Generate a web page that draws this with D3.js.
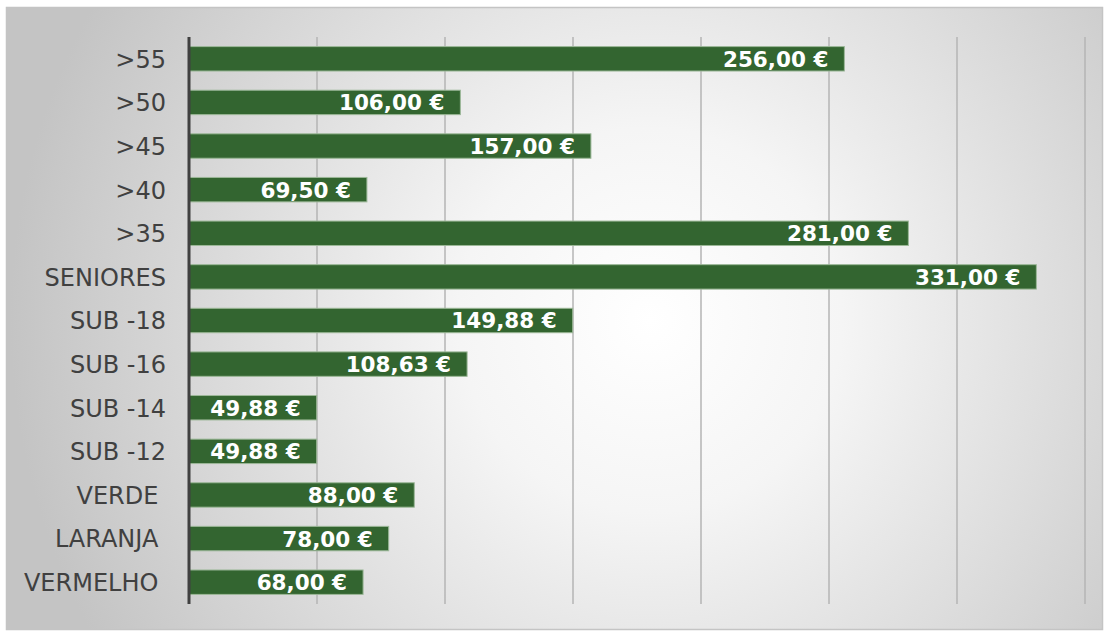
<!DOCTYPE html>
<html><head><meta charset="utf-8">
<script src="https://cdn.jsdelivr.net/npm/d3@7"></script>
<style>html,body{margin:0;padding:0;background:#fff;}svg{display:block;}</style>
</head><body>
<svg id="c" width="1105" height="631"></svg>
<script>
const categories = [">55", ">50", ">45", ">40", ">35", "SENIORES", "SUB -18", "SUB -16", "SUB -14", "SUB -12", "VERDE ", "LARANJA ", "VERMELHO "];
const values = [256.00, 106.00, 157.00, 69.50, 281.00, 331.00, 149.88, 108.63, 49.88, 49.88, 88.00, 78.00, 68.00];
const xTicks = [0, 50, 100, 150, 200, 250, 300, 350];

const svg = d3.select("#c");
const defs = svg.append("defs");
const rg = defs.append("radialGradient").attr("id", "bg")
  .attr("gradientUnits", "userSpaceOnUse")
  .attr("cx", 650).attr("cy", 320).attr("r", 640);
rg.append("stop").attr("offset", "0").attr("stop-color", "#ffffff");
rg.append("stop").attr("offset", "0.3").attr("stop-color", "#f5f5f5");
rg.append("stop").attr("offset", "1").attr("stop-color", "#c4c4c4");

svg.append("rect").attr("x", 6.5).attr("y", 7.5).attr("width", 1096).attr("height", 622)
  .attr("fill", "url(#bg)").attr("stroke", "#c4c4c4").attr("stroke-width", 1.5);

const x = d3.scaleLinear().domain([0, 350]).range([189, 1085]);
const y = d3.scaleBand().domain(categories).range([37, 604]).paddingInner(0.44).paddingOuter(0.22);

// gridlines
svg.append("g").selectAll("line").data(xTicks.slice(1)).join("line")
  .attr("x1", d => x(d)).attr("x2", d => x(d))
  .attr("y1", 37).attr("y2", 604)
  .attr("stroke", "#b4b4b4").attr("stroke-width", 1.5);

// bars
svg.append("g").selectAll("rect").data(values).join("rect")
  .attr("x", x(0)).attr("y", (d, i) => y(categories[i]))
  .attr("width", d => x(d) - x(0)).attr("height", y.bandwidth())
  .attr("fill", "#336530").attr("stroke", "#9cb898").attr("stroke-width", 1);

// value labels
const fmt = v => d3.format(".2f")(v).replace(".", ",") + " €";
svg.append("g").selectAll("text").data(values).join("text")
  .attr("x", d => x(d) - 16).attr("y", (d, i) => y(categories[i]) + y.bandwidth() / 2)
  .attr("dy", "0.37em").attr("text-anchor", "end")
  .attr("font-family", "DejaVu Sans, Verdana, sans-serif").attr("font-weight", "bold")
  .attr("font-size", 21.5).attr("fill", "#ffffff")
  .text(d => fmt(d));

// category labels
svg.append("g").selectAll("text").data(categories).join("text")
  .attr("x", 166).attr("y", d => y(d) + y.bandwidth() / 2)
  .attr("dy", "0.37em").attr("text-anchor", "end")
  .attr("font-family", "DejaVu Sans, Verdana, sans-serif")
  .attr("font-size", 24).attr("fill", "#404040")
  .style("white-space", "pre")
  .text(d => d);

// axis line
svg.append("line").attr("x1", 189).attr("x2", 189).attr("y1", 37).attr("y2", 604)
  .attr("stroke", "#404040").attr("stroke-width", 3);
</script>
</body></html>
